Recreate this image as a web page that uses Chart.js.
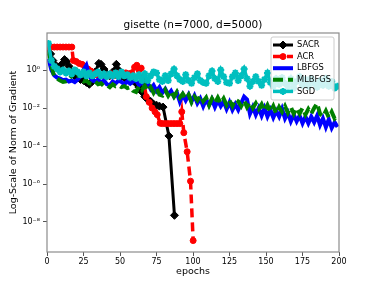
<!DOCTYPE html>
<html>
<head>
<meta charset="utf-8">
<script src="https://cdn.jsdelivr.net/npm/chart.js@4"></script>
<style>
  html, body { margin: 0; padding: 0; background: #fff; }
  canvas { display: block; }
</style>
</head>
<body>
<canvas id="canvas" width="376" height="282"></canvas>
<script>
const title_text = "gisette (n=7000, d=5000)";
const x_label = "epochs";
const y_label = "Log-Scale of Norm of Gradient";
const x_ticks = [0, 25, 50, 75, 100, 125, 150, 175, 200];
const y_ticks = [1e-8, 1e-6, 1e-4, 1e-2, 1];
const y_tick_labels = ["10⁻⁸", "10⁻⁶", "10⁻⁴", "10⁻²", "10⁰"];

/* all values below are powers of ten */
const sacr_epochs = [1, 2.5, 4, 6, 8, 10, 12, 13.5, 15, 17, 19, 21, 23, 25, 27, 29, 31, 33, 35.5, 37,
	39, 41, 43, 45, 47.5, 49, 51, 53, 55, 57, 59, 61, 63, 65, 67, 69, 71, 73, 75, 77, 79.5, 83.5, 87.3];
const sacr_log = [1.1, 0.85, 0.5, 0.25, 0.1, 0.3, 0.55, 0.45, 0.2, -0.1, -0.3, -0.4, -0.5, -0.55, -0.65, -0.75, -0.6, -0.1, 0.35, 0.3,
	0.05, -0.2, -0.3, -0.1, 0.3, 0.0, -0.3, -0.4, -0.45, -0.5, -0.55, -0.7, -0.9, -1.15, -1.4, -1.55, -1.65, -1.8, -1.85, -1.9, -1.95, -3.47, -7.65];

const acr_epochs = [1, 3, 5, 7, 9, 11, 13, 15, 17, 18, 20, 22, 24, 26, 28, 30, 32, 34, 36, 38,
	40, 42, 44, 46, 48, 50, 52, 54, 56, 58, 60, 61.5, 63, 64.5, 66, 68, 70, 72, 74, 75.5,
	77.5, 79, 81, 83, 85, 87, 89, 91, 92.3, 93.7, 96, 98.3, 100.1];
const acr_log = [1.2, 1.21, 1.21, 1.21, 1.21, 1.21, 1.21, 1.21, 1.21, 0.5, 0.45, 0.35, 0.3, 0.2, 0.05, -0.05, -0.15, -0.25, -0.3, -0.3,
	-0.25, -0.3, -0.2, -0.3, -0.2, -0.15, -0.2, -0.15, -0.2, -0.15, 0.15, 0.25, 0.0, 0.1, -0.5, -1.4, -1.7, -2.0, -2.2, -2.35,
	-2.8, -2.82, -2.82, -2.82, -2.82, -2.82, -2.82, -2.82, -2.2, -3.3, -4.3, -5.85, -8.98];

const epochs = [1, 3, 5, 7, 9, 11, 13, 15, 17, 19, 21, 23, 25, 27, 29, 31, 33, 35, 37, 39,
	41, 43, 45, 47, 49, 51, 53, 55, 57, 59, 61, 63, 65, 67, 69, 71, 73, 75, 77, 79,
	81, 83, 85, 87, 89, 91, 93, 95, 97, 99, 101, 103, 105, 107, 109, 111, 113, 115, 117, 119,
	121, 123, 125, 127, 129, 131, 133, 135, 137, 139, 141, 143, 145, 147, 149, 151, 153, 155, 157, 159,
	161, 163, 165, 167, 169, 171, 173, 175, 177, 179, 181, 183, 185, 187, 189, 191, 193, 195, 197, 199];

const lbfgs_log = [0.6, 0.0, -0.28, -0.4, -0.45, -0.54, -0.5, -0.6, -0.55, -0.63,
	-0.5, -0.3, 0.0, 0.25, -0.3, -0.54, -0.6, -0.5, -0.65, -0.55,
	-0.75, -0.8, -0.6, -0.7, -0.55, -0.63, -0.75, -0.6, -0.72, -0.6,
	-0.55, -0.8, -0.6, -0.85, -0.7, -1.0, -0.8, -1.1, -0.9, -1.2,
	-1.0, -1.3, -1.1, -1.4, -1.2, -1.67, -1.3, -1.6, -1.3, -1.65,
	-1.35, -1.75, -1.5, -1.9, -1.55, -1.85, -1.55, -1.95, -1.6, -1.9,
	-1.65, -2.05, -1.7, -2.1, -1.8, -2.1, -1.75, -1.4, -1.55, -2.3,
	-1.95, -2.35, -2.0, -2.4, -2.0, -2.45, -2.1, -2.5, -2.15, -2.45,
	-2.05, -2.55, -2.25, -2.7, -2.35, -2.7, -2.4, -2.8, -2.45, -2.8,
	-2.45, -2.75, -2.4, -2.9, -2.55, -3.0, -2.6, -3.05, -2.75, -3.0];

const mlbfgs_log = [1.0, 0.2, -0.35, -0.46, -0.55, -0.63, -0.6, -0.5, -0.3, 0.2,
	-0.2, -0.5, -0.6, -0.55, -0.7, -0.72, -0.6, -0.75, -0.7, -0.85,
	-0.8, -0.9, -0.75, -0.85, -0.8, -0.9, -0.85, -0.95, -0.9, -1.1,
	-1.16, -0.85, -1.05, -0.8, -1.1, -0.9, -1.2, -0.95, -1.3, -1.35,
	-1.05, -1.35, -1.1, -1.4, -1.15, -1.45, -1.25, -1.5, -1.3, -1.7,
	-1.4, -1.6, -1.35, -1.65, -1.45, -1.85, -1.5, -1.75, -1.45, -1.75,
	-1.5, -1.85, -1.6, -1.9, -1.55, -1.65, -1.9, -1.6, -1.95, -1.7,
	-2.0, -1.75, -2.05, -1.8, -2.15, -1.85, -2.2, -1.9, -2.3, -1.95,
	-2.2, -1.9, -2.25, -1.95, -2.3, -2.0, -2.3, -2.0, -2.35, -2.05,
	-2.3, -2.0, -1.75, -2.3, -2.45, -2.15, -2.5, -2.2, -2.55, -2.4];

const sgd_log = [1.4, 0.5, 0.2, 0.07, -0.1, 0.0, -0.15, -0.05, -0.2, 0.0,
	-0.1, -0.25, -0.1, -0.3, -0.15, -0.3, -0.2, -0.1, -0.3, -0.2,
	-0.35, -0.2, -0.3, -0.15, -0.35, -0.1, -0.3, -0.25, -0.4, -0.3,
	-0.45, -0.25, -0.55, -0.2, -0.55, -0.3, -0.1, -0.15, -0.5, -0.6,
	-0.3, -0.55, -0.2, 0.05, -0.3, -0.5, -0.6, -0.25, -0.55, -0.7,
	-0.4, -0.2, -0.55, -0.65, -0.7, -0.3, -0.05, -0.45, -0.6, 0.0,
	-0.35, -0.65, -0.7, -0.35, -0.15, -0.55, -0.3, 0.05, -0.45, -0.85,
	-0.6, -0.35, -0.6, -0.8, -0.5, -0.15, -0.65, -0.85, -0.45, -0.75,
	-0.4, -0.7, -0.85, -0.45, -0.95, -0.6, -0.35, -0.8, -0.5, -0.85,
	-0.45, -0.7, -0.9, -0.55, -0.8, -0.45, -0.85, -0.6, -0.95, -0.85];

const font_family = "'DejaVu Sans', sans-serif";

function to_points(xs, logs) {
	return xs.map(function (x, i) { return { x: x, y: Math.pow(10, logs[i]) }; });
}

var datasets = [
	{ label: "SACR", data: to_points(sacr_epochs, sacr_log), borderColor: "#000000", backgroundColor: "#000000",
		borderWidth: 3, pointStyle: "rectRot", pointRadius: 4, pointBorderWidth: 1, order: 5 },
	{ label: "ACR", data: to_points(acr_epochs, acr_log), borderColor: "#ff0000", backgroundColor: "#ff0000",
		borderWidth: 3.5, borderDash: [9, 5], pointStyle: "circle", pointRadius: 3, pointBorderWidth: 1, order: 4 },
	{ label: "LBFGS", data: to_points(epochs, lbfgs_log), borderColor: "#0000ff", backgroundColor: "#0000ff",
		borderWidth: 4, pointRadius: 0, order: 3 },
	{ label: "MLBFGS", data: to_points(epochs, mlbfgs_log), borderColor: "#008000", backgroundColor: "#008000",
		borderWidth: 4, borderDash: [10, 5], pointRadius: 0, order: 2 },
	{ label: "SGD", data: to_points(epochs, sgd_log), borderColor: "#00bfbf", backgroundColor: "#00bfbf",
		borderWidth: 3.5, pointStyle: "star", pointRadius: 3.5, pointBorderWidth: 2, order: 1 }
];

/* axes frame and the boxed legend in the upper right, drawn over the lines */
var frame_and_legend = {
	id: "frame_and_legend",
	afterDatasetsDraw: function (chart) {
		var ctx = chart.ctx;
		var area = chart.chartArea;
		ctx.save();
		ctx.strokeStyle = "#8c8c8c";
		ctx.lineWidth = 1.2;
		ctx.setLineDash([]);
		ctx.strokeRect(area.left, area.top, area.right - area.left, area.bottom - area.top);

		var bx = area.right - 68, by = area.top + 4, bw = 63, bh = 63;
		ctx.beginPath();
		ctx.roundRect(bx, by, bw, bh, 2);
		ctx.fillStyle = "rgba(255,255,255,0.8)";
		ctx.fill();
		ctx.strokeStyle = "#cccccc";
		ctx.lineWidth = 1;
		ctx.stroke();

		datasets.forEach(function (ds, i) {
			var y = by + 8 + i * 11.6;
			ctx.setLineDash(ds.borderDash || []);
			ctx.strokeStyle = ds.borderColor;
			ctx.lineWidth = ds.borderWidth;
			ctx.beginPath();
			ctx.moveTo(bx + 2, y);
			ctx.lineTo(bx + 22, y);
			ctx.stroke();
			ctx.setLineDash([]);
			if (ds.pointRadius > 0) {
				ctx.fillStyle = ds.borderColor;
				ctx.lineWidth = ds.pointBorderWidth;
				Chart.helpers.drawPoint(ctx, { pointStyle: ds.pointStyle, radius: ds.pointRadius,
					borderWidth: ds.pointBorderWidth, rotation: 0 }, bx + 12, y);
			}
			ctx.fillStyle = "#000";
			ctx.font = "8.3px " + font_family;
			ctx.textBaseline = "middle";
			ctx.textAlign = "left";
			ctx.fillText(ds.label, bx + 26, y);
		});
		ctx.restore();
	}
};

var ctx = document.getElementById("canvas").getContext("2d");
window.myLine = new Chart(ctx, {
	type: "line",
	data: { datasets: datasets },
	options: {
		responsive: false,
		animation: false,
		devicePixelRatio: 1,
		layout: { padding: { left: 0, right: 37, top: 0, bottom: 0 } },
		elements: { line: { tension: 0 } },
		plugins: {
			legend: { display: false },
			tooltip: { enabled: false },
			title: {
				display: true, text: title_text, color: "#000", fullSize: false,
				font: { family: font_family, size: 10.5, weight: "normal" },
				padding: { top: 19, bottom: 1.4 }
			}
		},
		scales: {
			x: {
				type: "linear", min: 0, max: 200,
				afterFit: function (s) { s.height = 30; },
				afterBuildTicks: function (s) { s.ticks = x_ticks.map(function (v) { return { value: v }; }); },
				ticks: { color: "#000", font: { family: font_family, size: 8 }, padding: 1, maxRotation: 0, autoSkip: false },
				grid: { display: true, drawOnChartArea: false, drawTicks: true, tickLength: 4, color: "#555" },
				border: { display: false },
				title: { display: true, text: x_label, color: "#000", font: { family: font_family, size: 9.5 },
					padding: { top: 0, bottom: 4.3 } }
			},
			y: {
				type: "logarithmic", min: Math.pow(10, -9.58), max: Math.pow(10, 1.95),
				afterFit: function (s) { s.width = 47; },
				afterBuildTicks: function (s) { s.ticks = y_ticks.map(function (v) { return { value: v }; }); },
				ticks: {
					color: "#000", font: { family: font_family, size: 8 }, padding: 3, autoSkip: false,
					callback: function (v) { var i = y_ticks.indexOf(v); return i < 0 ? "" : y_tick_labels[i]; }
				},
				grid: { display: true, drawOnChartArea: false, drawTicks: true, tickLength: 4, color: "#555" },
				border: { display: false },
				title: { display: true, text: y_label, color: "#000", font: { family: font_family, size: 9.5 },
					padding: { top: 8, bottom: 0 } }
			}
		}
	},
	plugins: [frame_and_legend]
});
</script>
</body>
</html>
